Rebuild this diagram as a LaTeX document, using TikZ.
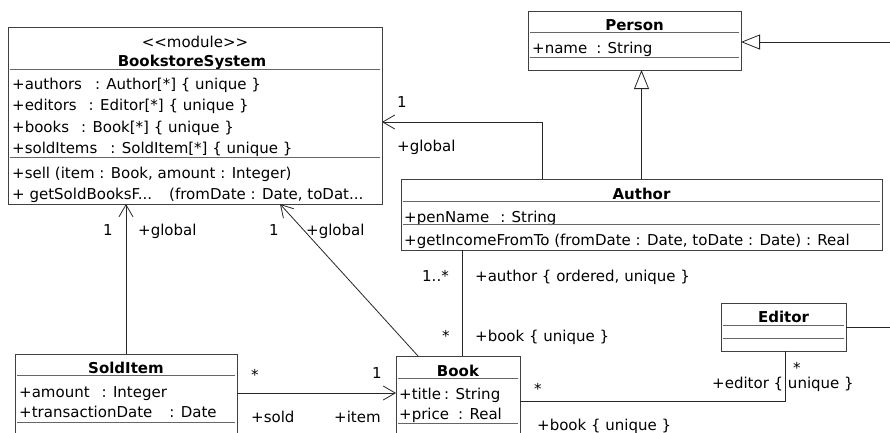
\documentclass[tikz,border=0pt]{standalone}
\usepackage{fontspec}
\setmainfont{DejaVu Sans}
\usetikzlibrary{arrows.meta}

\tikzset{
  umlbox/.style={draw=black!75, line width=1pt, fill=white, inner sep=0pt,
    anchor=north west, outer sep=0pt},
  compline/.style={draw=black!60, line width=1pt},
  txt/.style={anchor=base west, inner sep=0pt, font=\fontsize{15}{17}\selectfont},
  ttl/.style={anchor=base, inner sep=0pt, font=\fontsize{15}{17}\selectfont\bfseries},
  lbl/.style={anchor=base west, inner sep=0pt, font=\fontsize{15}{17}\selectfont},
  conn/.style={draw=black!85, line width=0.8pt},
  nav/.style={conn, -{Straight Barb[length=12pt,width=14pt]}},
  gen/.style={conn, -{Triangle[open,length=19pt,width=15pt,fill=white]}},
}
\newcommand{\gap}[1]{\hspace{#1pt}}

\begin{document}
\begin{tikzpicture}[x=1pt,y=-1pt]
\clip (0,0) rectangle (890,432);
\fill[white] (0,0) rectangle (890,432);

% ---------- BookstoreSystem ----------
\node[umlbox, minimum width=374pt, minimum height=177pt] (bss) at (8,27) {};
\node[txt, anchor=base] (bssst) at (195,47) {<{}<module>{}>};
\node[ttl] (bssname) at (192,66) {BookstoreSystem};
\draw[compline] (10,69) -- (380,69);
\node[txt] (bssa1) at (12,89) {+authors\gap{13}: Author[*] \{ unique \}};
\node[txt] (bssa2) at (12,110.5) {+editors\gap{12}: Editor[*] \{ unique \}};
\node[txt] (bssa3) at (12,132) {+books\gap{12}: Book[*] \{ unique \}};
\node[txt] (bssa4) at (12,153.5) {+soldItems\gap{13}: SoldItem[*] \{ unique \}};
\draw[compline] (10,157) -- (380,157);
\node[txt] (bsso1) at (12,178) {+sell (item : Book, amount : Integer)};
\node[txt] (bsso2) at (12,199) {+ getSoldBooksF...\gap{17}(fromDate : Date, toDat...};

% ---------- Person ----------
\node[umlbox, minimum width=213pt, minimum height=59pt] (person) at (528,11) {};
\node[ttl] (personname) at (634.5,30) {Person};
\draw[compline] (530,32) -- (739,32);
\node[txt] (persona1) at (532,53) {+name\gap{9}: String};
\draw[compline] (530,57) -- (739,57);

% ---------- Author ----------
\node[umlbox, minimum width=481pt, minimum height=71pt] (author) at (401,179) {};
\node[ttl] (authorname) at (641.5,199) {Author};
\draw[compline] (403,201) -- (880,201);
\node[txt] (authora1) at (404,222) {+penName\gap{11}: String};
\draw[compline] (403,224) -- (880,224);
\node[txt] (authoro1) at (404,245) {+getIncomeFromTo (fromDate : Date, toDate : Date) : Real};

% ---------- SoldItem ----------
\node[umlbox, minimum width=222pt, minimum height=100pt] (si) at (15,354) {};
\node[ttl] (siname) at (126,373) {SoldItem};
\draw[compline] (17,375) -- (235,375);
\node[txt] (sia1) at (19,397) {+amount\gap{12}: Integer};
\node[txt] (sia2) at (19,417) {+transactionDate\gap{17}: Date};
\draw[compline] (17,422) -- (235,422);

% ---------- Book ----------
\node[umlbox, minimum width=124pt, minimum height=100pt] (book) at (396,356) {};
\node[ttl] (bookname) at (458,376) {Book};
\draw[compline] (398,378) -- (518,378);
\node[txt] (booka1) at (399,399) {+title\gap{3}: String};
\node[txt] (booka2) at (399,419) {+price\gap{9}: Real};
\draw[compline] (398,423) -- (518,423);

% ---------- Editor ----------
\node[umlbox, minimum width=125pt, minimum height=48pt] (editor) at (721,303) {};
\node[ttl] (editorname) at (783.5,322) {Editor};
\draw[compline] (723,325) -- (844,325);
\draw[compline] (723,338) -- (844,338);

% ---------- connectors ----------
\coordinate (pin) at (890,42);
\coordinate (eout) at (890,327);

\draw[gen] (author.north) -- (author.north |- person.south);
\draw[gen] (pin) -- (pin -| person.east);
\draw[conn] (editor.east |- eout) -- (eout);

\draw[nav] (author.north -| 542,0) |- (bss.east |- 0,122);
\draw[nav] (si.north) -- (si.north |- bss.south);
\draw[nav] (book.north -| 418,0) -- (bss.south -| 280,0);
\draw[nav] (si.east |- 0,393) -- (book.west |- 0,393);
\draw[conn] (author.south -| 462,0) -- (book.north -| 462,0);

% ---------- association end labels ----------
\node[lbl] (l1) at (397,107) {1};
\node[lbl] (l2) at (397,151) {+global};
\node[lbl] (l3) at (103,235) {1};
\node[lbl] (l4) at (138,235) {+global};
\node[lbl] (l5) at (269,235) {1};
\node[lbl] (l6) at (306,235) {+global};
\node[lbl] (l7) at (251,380) {*};
\node[lbl] (l8) at (372,378) {1};
\node[lbl] (l9) at (251,422) {+sold};
\node[lbl] (l10) at (334,422) {+item};
\node[lbl] (l11) at (422,281) {1..*};
\node[lbl] (l12) at (475,281) {+author \{ ordered, unique \}};
\node[lbl] (l13) at (442,341) {*};
\node[lbl] (l14) at (475,341) {+book \{ unique \}};
\node[lbl] (l15) at (534,394) {*};
\node[lbl] (l16) at (537,430) {+book \{ unique \}};
\node[lbl] (l17) at (712,388) {+editor \{ unique \}};
\node[lbl] (l18) at (793,373) {*};

\draw[conn] (book.east |- 0,401) -| (editor.south -| 785,0);
\end{tikzpicture}
\end{document}
